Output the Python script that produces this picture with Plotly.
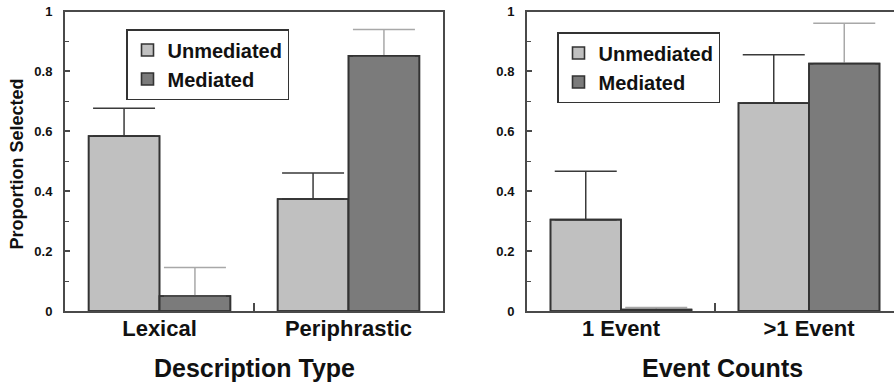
import plotly.graph_objects as go

# ---- data ----
desc_categories = ["Lexical", "Periphrastic"]
desc_unmediated = [0.584, 0.374]
desc_unmediated_err = [0.093, 0.087]
desc_mediated = [0.050, 0.852]
desc_mediated_err = [0.095, 0.088]

event_categories = ["1 Event", ">1 Event"]
event_unmediated = [0.305, 0.694]
event_unmediated_err = [0.162, 0.162]
event_mediated = [0.005, 0.826]
event_mediated_err = [0.007, 0.135]

y_ticks = [0, 0.2, 0.4, 0.6, 0.8, 1]
y_tick_labels = ["0", "0.2", "0.4", "0.6", "0.8", "1"]

# ---- style ----
FONT = "Liberation Sans, Arial, sans-serif"
LIGHT = "#c0c0c0"
DARK = "#7b7b7b"
OUTLINE = "#333333"
ERR_DARK = "#3a3a3a"
ERR_LIGHT = "#a8a8a8"
AXIS = "#4a4a4a"
BW = 0.375

W, H = 894, 384
fig = go.Figure()

def add_panel(cats, unm, unm_err, med, med_err, xa, ya, legend):
    xs = list(range(1, len(cats) + 1))
    for name, vals, errs, fill, ecol, off in [
        ("Unmediated", unm, unm_err, LIGHT, ERR_DARK, -BW),
        ("Mediated", med, med_err, DARK, ERR_LIGHT, 0.0),
    ]:
        fig.add_trace(go.Bar(
            x=xs, y=vals, name=name, xaxis=xa, yaxis=ya, legend=legend,
            width=BW, offset=off,
            marker=dict(color=fill, line=dict(color=OUTLINE, width=1.6)),
            error_y=dict(type="data", array=errs, arrayminus=[0] * len(errs),
                         symmetric=False, color=ecol, thickness=1.5, width=31),
        ))
        # outline redrawn on top so the lower error cap is hidden
        fig.add_trace(go.Bar(
            x=xs, y=vals, xaxis=xa, yaxis=ya, showlegend=False,
            width=BW, offset=off, hoverinfo="skip",
            marker=dict(color="rgba(0,0,0,0)", line=dict(color=OUTLINE, width=1.6)),
        ))

add_panel(desc_categories, desc_unmediated, desc_unmediated_err,
          desc_mediated, desc_mediated_err, "x", "y", "legend")
add_panel(event_categories, event_unmediated, event_unmediated_err,
          event_mediated, event_mediated_err, "x2", "y2", "legend2")

ydom = [73 / H, 372.5 / H]

def xaxis_cfg(dom, rng, cats):
    return dict(
        domain=dom, range=rng, tickmode="array", tickvals=[1, 2], ticktext=cats,
        ticks="", showgrid=False, zeroline=False, showline=True, linecolor=AXIS,
        linewidth=2, mirror=True, automargin=False, ticklabelstandoff=-3,
        tickfont=dict(family=FONT, size=22, color="#111", weight="bold"),
        minor=dict(tickmode="array", tickvals=[1.5], ticks="inside", ticklen=8,
                   tickwidth=1.5, tickcolor=AXIS, showgrid=False),
        fixedrange=True,
    )

def yaxis_cfg(anchor, mirror):
    return dict(
        domain=ydom, range=[0, 1], anchor=anchor, tickmode="array",
        tickvals=y_ticks, ticktext=y_tick_labels, ticks="inside", ticklen=5,
        tickwidth=1.5, tickcolor=AXIS, showgrid=False, zeroline=False,
        showline=True, linecolor=AXIS, linewidth=2, mirror=mirror,
        automargin=False, ticklabelstandoff=8,
        tickfont=dict(family=FONT, size=13, color="#111", weight="bold"),
        minor=dict(tickmode="array", tickvals=[0.1, 0.3, 0.5, 0.7, 0.9],
                   ticks="inside", ticklen=4, tickwidth=1.2, tickcolor=AXIS,
                   showgrid=False),
        fixedrange=True,
    )

legend_font = dict(family=FONT, size=20, color="#111", weight="bold")
fig.update_layout(
    width=W, height=H, margin=dict(l=0, r=0, t=0, b=0),
    paper_bgcolor="white", plot_bgcolor="white",
    barmode="overlay",
    xaxis=xaxis_cfg([65 / W, 443 / W], [0.5, 2.5], desc_categories),
    yaxis=yaxis_cfg("x", True),
    xaxis2=xaxis_cfg([527 / W, 1.0], [0.5, 0.5 + 367 / 188], event_categories),
    yaxis2=yaxis_cfg("x2", False),
    legend=dict(x=126 / W, y=1 - 29 / H, xanchor="left", yanchor="top",
                bgcolor="white", bordercolor="#333", borderwidth=1.5,
                font=legend_font, tracegroupgap=0),
    legend2=dict(x=557 / W, y=1 - 32 / H, xanchor="left", yanchor="top",
                 bgcolor="white", bordercolor="#333", borderwidth=1.5,
                 font=legend_font, tracegroupgap=0),
    showlegend=True,
    annotations=[
        dict(text="Description Type", x=254 / W, y=1 - 368 / H, xref="paper",
             yref="paper", showarrow=False, xanchor="center", yanchor="middle",
             font=dict(family=FONT, size=25, color="#111", weight="bold")),
        dict(text="Event Counts", x=722 / W, y=1 - 368 / H, xref="paper",
             yref="paper", showarrow=False, xanchor="center", yanchor="middle",
             font=dict(family=FONT, size=25, color="#111", weight="bold")),
        dict(text="Proportion Selected", x=16 / W, y=1 - 164.5 / H, xref="paper",
             yref="paper", showarrow=False, xanchor="center", yanchor="middle",
             textangle=-90,
             font=dict(family=FONT, size=18, color="#111", weight="bold")),
    ],
)

fig.write_html(
    "out.html",
    config={"displayModeBar": False},
    post_script="document.body.style.margin='0';document.body.style.overflow='hidden';",
)
